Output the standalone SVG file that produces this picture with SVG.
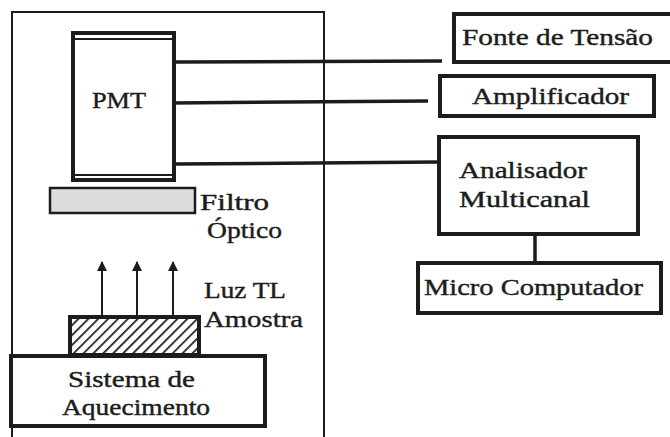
<svg xmlns="http://www.w3.org/2000/svg" width="670" height="437" viewBox="0 0 670 437">
<style>
.box{fill:#fff;stroke:#1c1c1c;stroke-width:4}
.t{font-family:"Liberation Serif","Times New Roman",serif;font-size:23px;fill:#1c1c1c;stroke:#1c1c1c;stroke-width:0.4}
.wire{stroke:#1c1c1c;stroke-width:3.5;fill:none}
.arr{stroke:#1c1c1c;stroke-width:2;fill:none;marker-end:url(#ah)}
</style>
<defs>
<marker id="ah" markerWidth="10" markerHeight="10" refX="9" refY="5" orient="auto" markerUnits="userSpaceOnUse" viewBox="0 0 10 10">
<path d="M0,0 L10,5 L0,10 Z" fill="#1c1c1c"/>
</marker>
<pattern id="hatch" patternUnits="userSpaceOnUse" width="7" height="7" patternTransform="rotate(45)">
<rect width="7" height="7" fill="#fff"/>
<line x1="0" y1="0" x2="0" y2="7" stroke="#1c1c1c" stroke-width="3.5"/>
</pattern>
</defs>
<rect width="670" height="437" fill="#fff"/>
<g id="enclosure"><path d="M12,440 V12 H324 V440" fill="none" stroke="#1c1c1c" stroke-width="2"/></g>
<g id="connectors">
<path class="wire" d="M176,62 L442,61"/>
<path class="wire" d="M171,103 L428,101"/>
<path class="wire" d="M176,164 L437,162"/>
<path class="wire" d="M535,235 V262"/>
<path class="arr" d="M102,316 V262"/>
<path class="arr" d="M137,316 V262"/>
<path class="arr" d="M173,316 V262"/>
</g>
<g id="pmt">
<rect class="box" x="73" y="33" width="101" height="147"/>
<line x1="73" y1="39" x2="174" y2="39" stroke="#1c1c1c" stroke-width="2"/>
<line x1="73" y1="175" x2="174" y2="175" stroke="#1c1c1c" stroke-width="2"/>
<text class="t" x="92" y="108" textLength="54" lengthAdjust="spacingAndGlyphs">PMT</text>
</g>
<g id="filtro">
<rect x="50" y="188" width="145" height="25" fill="#dcdcdc" stroke="#1c1c1c" stroke-width="2.5"/>
<text class="t" x="200" y="210" textLength="69" lengthAdjust="spacingAndGlyphs">Filtro</text>
<text class="t" x="207" y="238" textLength="75" lengthAdjust="spacingAndGlyphs">Óptico</text>
</g>
<g id="luz">
<text class="t" x="204" y="298" textLength="82" lengthAdjust="spacingAndGlyphs">Luz TL</text>
</g>
<g id="amostra">
<rect x="70" y="317" width="129" height="38" fill="url(#hatch)" stroke="#1c1c1c" stroke-width="4"/>
<text class="t" x="204" y="327" textLength="99" lengthAdjust="spacingAndGlyphs">Amostra</text>
</g>
<g id="aquecimento">
<rect class="box" x="11" y="356" width="254" height="70"/>
<text class="t" x="68" y="387" textLength="127" lengthAdjust="spacingAndGlyphs">Sistema de</text>
<text class="t" x="62" y="415" textLength="148" lengthAdjust="spacingAndGlyphs">Aquecimento</text>
</g>
<g id="fonte">
<rect class="box" x="454" y="14" width="230" height="48"/>
<text class="t" x="462" y="45" textLength="191" lengthAdjust="spacingAndGlyphs">Fonte de Tensão</text>
</g>
<g id="amplificador">
<rect class="box" x="440" y="76" width="214" height="40"/>
<text class="t" x="472" y="104" textLength="157" lengthAdjust="spacingAndGlyphs">Amplificador</text>
</g>
<g id="analisador">
<rect class="box" x="439" y="137" width="199" height="97"/>
<text class="t" x="459" y="178" textLength="128" lengthAdjust="spacingAndGlyphs">Analisador</text>
<text class="t" x="459" y="207" textLength="131" lengthAdjust="spacingAndGlyphs">Multicanal</text>
</g>
<g id="micro">
<rect class="box" x="418" y="263" width="243" height="50"/>
<text class="t" x="424" y="295" textLength="219" lengthAdjust="spacingAndGlyphs">Micro Computador</text>
</g>
</svg>
